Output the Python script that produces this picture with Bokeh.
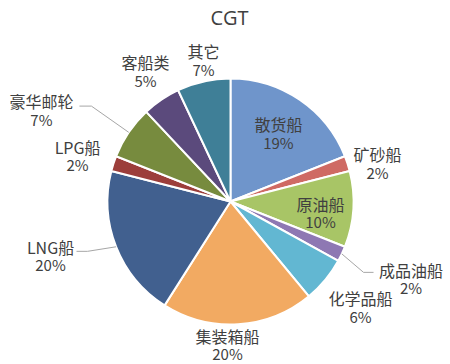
import numpy as np
from bokeh.plotting import figure
from bokeh.models import Range1d, ColumnDataSource
from bokeh.core.properties import value
from bokeh.embed import file_html
from bokeh.resources import INLINE

# ---- data ----
names = ["散货船", "矿砂船", "原油船", "成品油船", "化学品船", "集装箱船",
         "LNG船", "LPG船", "豪华邮轮", "客船类", "其它"]
shares = [19, 2, 10, 2, 6, 20, 20, 2, 7, 5, 7]
colors = ["#6F95CB", "#CF6A64", "#A8C566", "#8E78B3", "#62B7D2", "#F2AA62",
          "#41608F", "#9C3E3B", "#778B3E", "#5B4A7C", "#3F7F97"]
title_text = "CGT"

# ---- layout (screen-pixel style units) ----
W, H = 450, 364
CX, CY = 230, H - 201   # pie centre (y up)
R = 123
label_r = [83.6, 151.8, 90.7, 196.4, 167.7, 143.5, 188, 159.6, 210, 155.7, 143.6]
label_turn = [0.8, 3.5, 3.4, -2.0, -0.4, 4.8, 4.8, -1.4, -8.4, 1.1, 1.8]
leaders = {3: [(-47.5, -6.5), (-37.5, -6.5)],
           6: [(37, -4.5), (26, -4.5)],
           8: [(50, -4), (38, -4)]}

vals = np.array(shares, dtype=float)
total = vals.sum()
cum = np.concatenate([[0], np.cumsum(vals)])
start = np.pi / 2 - 2 * np.pi * cum[:-1] / total
end = np.pi / 2 - 2 * np.pi * cum[1:] / total
mid = (start + end) / 2

lab_ang = mid - np.radians(label_turn)
lx = CX + np.array(label_r) * np.cos(lab_ang)
ly = CY + np.array(label_r) * np.sin(lab_ang)

src = ColumnDataSource(dict(start=start, end=end, color=colors, name=names,
                            pct=[f"{int(v)}%" for v in shares], lx=lx, ly=ly))

p = figure(width=W, height=H, x_range=Range1d(0, W), y_range=Range1d(0, H),
           output_backend="svg", toolbar_location=None, min_border=0,
           background_fill_color="white", border_fill_color="white")
p.axis.visible = False
p.grid.visible = False
p.outline_line_color = None

p.wedge(x=CX, y=CY, radius=R, start_angle="start", end_angle="end",
        direction="clock", fill_color="color", line_color="white",
        line_width=2, source=src)

# leader lines
xs, ys = [], []
for i, pts in leaders.items():
    sx = CX + R * np.cos(mid[i])
    sy = CY + R * np.sin(mid[i])
    xs.append([sx] + [lx[i] + dx for dx, dy in pts])
    ys.append([sy] + [ly[i] - dy for dx, dy in pts])
p.multi_line(xs=xs, ys=ys, line_color="#A6A6A6", line_width=1)

font = value("Noto Sans CJK SC")
p.text(x="lx", y="ly", text="name", source=src, text_font=font,
       text_font_size="16px", text_color="#404040", text_align="center",
       text_baseline="middle", y_offset=-9)
p.text(x="lx", y="ly", text="pct", source=src, text_font=font,
       text_font_size="15px", text_color="#404040", text_align="center",
       text_baseline="middle", y_offset=9)

p.text(x=[229], y=[H - 17], text=[title_text], text_font=value("Open Sans"),
       text_font_size="20px", text_color="#404040", text_align="center",
       text_baseline="middle")

open("out.html", "w").write(file_html(p, INLINE))
